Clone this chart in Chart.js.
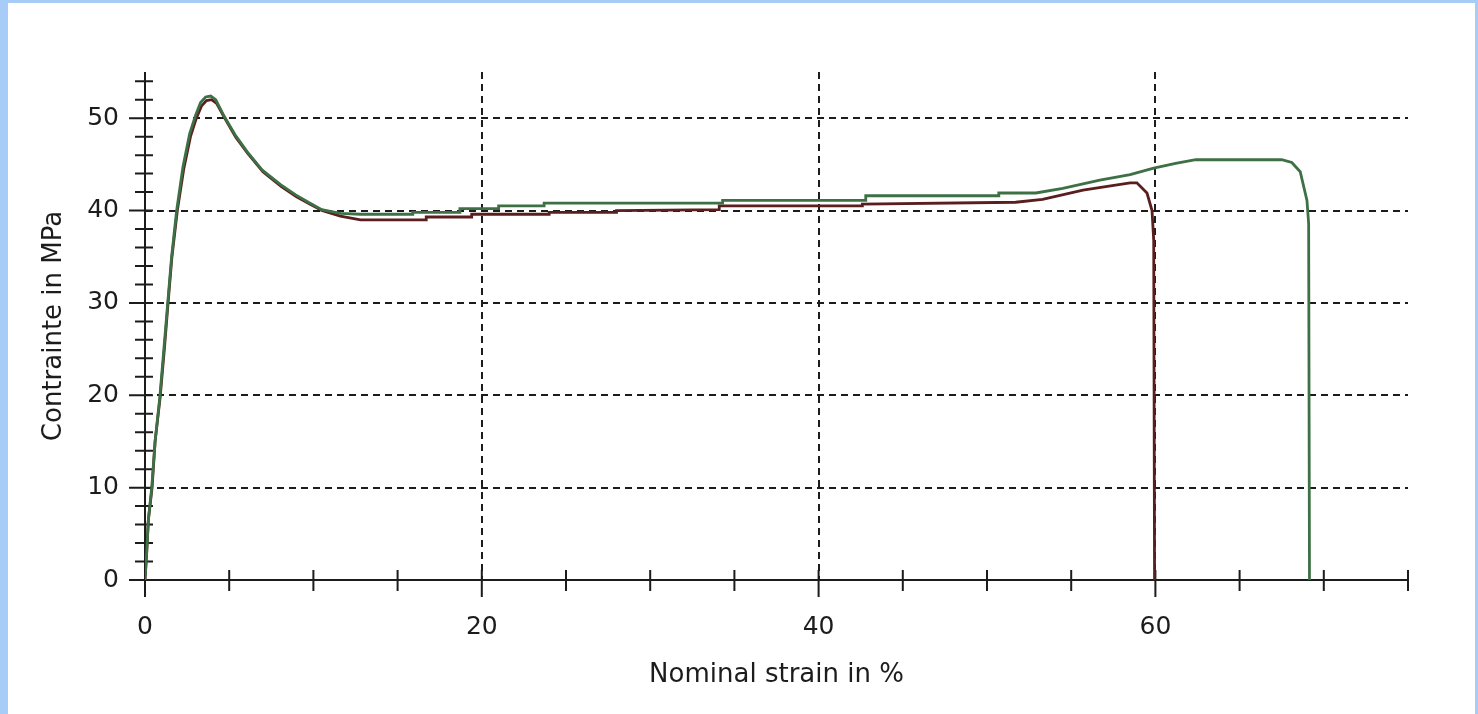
<!DOCTYPE html>
<html>
<head>
<meta charset="utf-8">
<script src="https://cdn.jsdelivr.net/npm/chart.js@4.4.1/dist/chart.umd.min.js"></script>
<style>
  html, body { margin: 0; padding: 0; background: #a8ccf8; }
  #panel { position: absolute; left: 8px; top: 3px; width: 1467px; height: 711px; background: #fff; }
  canvas { display: block; }
</style>
</head>
<body>
<div id="panel"><canvas id="myChart" width="1467" height="711"></canvas></div>
<script>
// strain (%) / stress (MPa)
const redStrain = [0, 0.1, 0.2, 0.42, 0.6, 0.9, 1.15, 1.37, 1.6, 1.92, 2.3, 2.7, 3.05, 3.35, 3.65, 3.95, 4.25, 4.8, 5.4, 6.1, 7.0, 8.1, 9.0, 9.7, 10.5, 11.6, 12.8,
  16.7, 16.7, 19.4, 19.4, 24, 24, 28, 28, 34.1, 34.1, 42.6, 42.6, 51.7, 53.3, 55.7, 58.5, 58.9, 59.5, 59.8, 59.9, 59.95];
const redStress = [0, 3, 6.5, 10, 15, 19.8, 25, 30, 35, 40, 44.5, 48, 50, 51.3, 51.9, 52.0, 51.6, 49.8, 47.9, 46.2, 44.2, 42.6, 41.5, 40.8, 40.0, 39.4, 39.0,
  39.0, 39.3, 39.3, 39.6, 39.6, 39.8, 39.8, 40.0, 40.1, 40.5, 40.5, 40.7, 40.9, 41.2, 42.2, 43.0, 43.0, 41.9, 40.0, 36.8, 0];

const greenStrain = [0, 0.1, 0.2, 0.4, 0.6, 0.88, 1.12, 1.35, 1.58, 1.88, 2.25, 2.65, 3.0, 3.3, 3.6, 3.9, 4.2, 4.7, 5.35, 6.05, 6.95, 8.05, 8.95, 9.7, 10.5, 11.6, 12.8,
  15.9, 15.9, 18.7, 18.7, 21, 21, 23.7, 23.7, 34.3, 34.3, 42.8, 42.8, 50.7, 50.7, 52.9, 54.5, 56.7, 58.5, 59.9, 61.2, 62.4, 67.5, 68.1, 68.6, 69.0, 69.1, 69.15];
const greenStress = [0, 3, 6.5, 10, 15, 19.8, 25, 30, 35, 40, 44.7, 48.3, 50.3, 51.7, 52.3, 52.4, 52.0, 50.2, 48.2, 46.4, 44.4, 42.8, 41.7, 40.9, 40.1, 39.7, 39.6,
  39.6, 39.8, 39.8, 40.2, 40.2, 40.5, 40.5, 40.8, 40.8, 41.1, 41.1, 41.6, 41.6, 41.9, 41.9, 42.4, 43.3, 43.9, 44.6, 45.1, 45.5, 45.5, 45.2, 44.2, 41.1, 38.6, 0];

const xTickLabels = [0, 20, 40, 60];
const yTickLabels = [0, 10, 20, 30, 40, 50];
const xTickMarks = [0, 5, 10, 15, 20, 25, 30, 35, 40, 45, 50, 55, 60, 65, 70, 75];
const yTickMarks = [0, 2, 4, 6, 8, 10, 12, 14, 16, 18, 20, 22, 24, 26, 28, 30, 32, 34, 36, 38, 40, 42, 44, 46, 48, 50, 52, 54];

const toPoints = (xs, ys) => xs.map((v, i) => ({ x: v, y: ys[i] }));

const ink = '#1c1c1c';
const tickFont = { family: 'DejaVu Sans', size: 25 };
const titleFont = { family: 'DejaVu Sans', size: 26 };

// cross-shaped tick marks and the two axis lines, placed through the scales
const axisCross = {
  id: 'axisCross',
  beforeDatasetsDraw(chart) {
    const { ctx, scales: { x, y } } = chart;
    const x0 = x.getPixelForValue(0);
    const y0 = y.getPixelForValue(0);
    ctx.save();
    ctx.strokeStyle = ink;
    ctx.lineWidth = 2;
    ctx.beginPath();
    ctx.moveTo(x0 - 16, y0);
    ctx.lineTo(x.getPixelForValue(75), y0);
    ctx.moveTo(x0, y.getPixelForValue(55));
    ctx.lineTo(x0, y0 + 16);
    xTickMarks.forEach(v => {
      const px = x.getPixelForValue(v);
      const major = xTickLabels.includes(v);
      ctx.moveTo(px, y0 - 10);
      ctx.lineTo(px, y0 + (major ? 17 : 11));
    });
    yTickMarks.forEach(v => {
      const py = y.getPixelForValue(v);
      const major = yTickLabels.includes(v);
      ctx.moveTo(x0 - (major ? 16 : 10), py);
      ctx.lineTo(x0 + 8, py);
    });
    ctx.stroke();
    ctx.restore();
  }
};

const gridColor = c => (c.tick && c.tick.value !== 0) ? ink : 'rgba(0,0,0,0)';

new Chart(document.getElementById('myChart'), {
  type: 'scatter',
  data: {
    datasets: [
      {
        label: 'essai 2',
        data: toPoints(greenStrain, greenStress),
        showLine: true,
        borderColor: '#3d7045',
        borderWidth: 2.8,
        pointRadius: 0,
        tension: 0
      },
      {
        label: 'essai 1',
        data: toPoints(redStrain, redStress),
        showLine: true,
        borderColor: '#5a1e1e',
        borderWidth: 2.8,
        pointRadius: 0,
        tension: 0
      }
    ]
  },
  options: {
    responsive: false,
    animation: false,
    devicePixelRatio: 1,
    layout: { padding: { left: 0, top: 69, right: 67, bottom: 0 } },
    plugins: {
      legend: { display: false },
      tooltip: { enabled: false }
    },
    scales: {
      x: {
        type: 'linear',
        min: 0,
        max: 75,
        afterFit: s => { s.height = 134; },
        ticks: {
          stepSize: 20,
          includeBounds: false,
          padding: 32,
          maxRotation: 0,
          color: ink,
          font: tickFont
        },
        grid: { drawTicks: false, color: gridColor, lineWidth: 2 },
        border: { display: false, dash: [7, 5] },
        title: {
          display: true,
          text: 'Nominal strain in %',
          color: ink,
          font: titleFont,
          padding: { top: 0, bottom: 23 }
        }
      },
      y: {
        type: 'linear',
        min: 0,
        max: 55,
        afterFit: s => { s.width = 137; },
        ticks: {
          stepSize: 10,
          includeBounds: false,
          padding: 26,
          color: ink,
          font: tickFont
        },
        grid: { drawTicks: false, color: gridColor, lineWidth: 2 },
        border: { display: false, dash: [7, 5] },
        title: {
          display: true,
          text: 'Contrainte in MPa',
          color: ink,
          font: titleFont,
          padding: { top: 31, bottom: 0 }
        }
      }
    }
  },
  plugins: [axisCross]
});
</script>
</body>
</html>
